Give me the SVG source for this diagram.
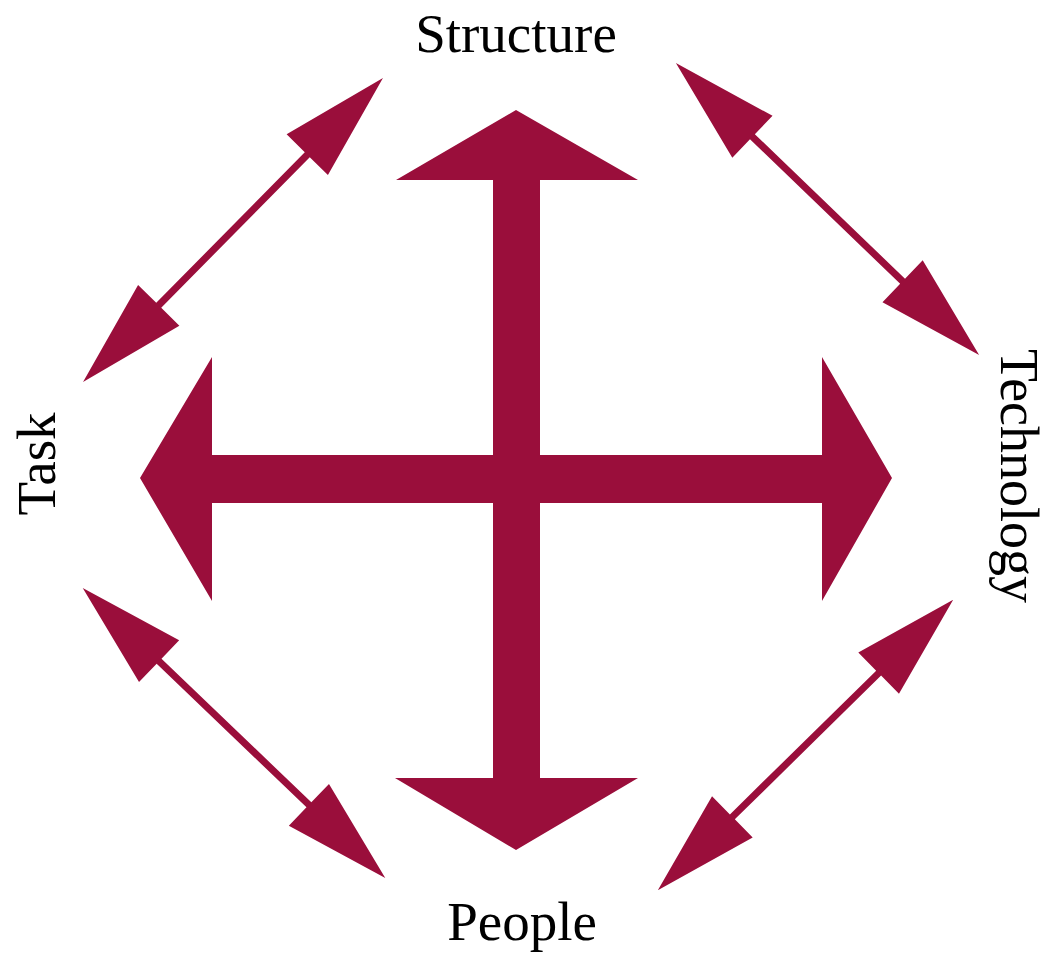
<svg xmlns="http://www.w3.org/2000/svg" xmlns:xlink="http://www.w3.org/1999/xlink" width="1049" height="955" viewBox="0 0 1049 955">
<style>
.shape{fill:#9A0E3B;}
.lbl{font-family:"Liberation Serif","Times New Roman",serif;font-size:55px;fill:#000;text-anchor:middle;}
</style>
<defs>
<path id="dbl" d="M -210 0 L -104 -29 L -104 -3.5 L 104 -3.5 L 104 -29 L 210 0 L 104 29 L 104 3.5 L -104 3.5 L -104 29 Z"/>
</defs>
<rect width="1049" height="955" fill="#ffffff"/>
<g id="connectors">
<g id="cross">
<path class="shape" d="M516,110 L638,180 L540,180 L540,455 L822,455 L822,357 L892,478 L822,601 L822,503 L540,503 L540,778 L638,778 L516,850 L395,778 L493,778 L493,503 L212,503 L212,601 L140,478 L212,357 L212,455 L493,455 L493,180 L396,180 Z"/>
</g>
<use id="arrow-structure-task" class="shape" xlink:href="#dbl" href="#dbl" transform="translate(233,230) rotate(-45.4) scale(1.017,1)"/>
<use id="arrow-structure-technology" class="shape" xlink:href="#dbl" href="#dbl" transform="translate(827.5,209) rotate(43.9) scale(1.002,1)"/>
<use id="arrow-task-people" class="shape" xlink:href="#dbl" href="#dbl" transform="translate(234,733) rotate(43.8) scale(0.998,1)"/>
<use id="arrow-technology-people" class="shape" xlink:href="#dbl" href="#dbl" transform="translate(805.5,745) rotate(-44.5) scale(0.986,1)"/>
</g>
<g id="node-structure"><text class="lbl" x="516" y="52">Structure</text></g>
<g id="node-people"><text class="lbl" x="522" y="940">People</text></g>
<g id="node-task"><text class="lbl" transform="translate(55,464) rotate(-90)">Task</text></g>
<g id="node-technology"><text class="lbl" style="font-size:54px" transform="translate(1001,476) rotate(90)">Technology</text></g>
</svg>
